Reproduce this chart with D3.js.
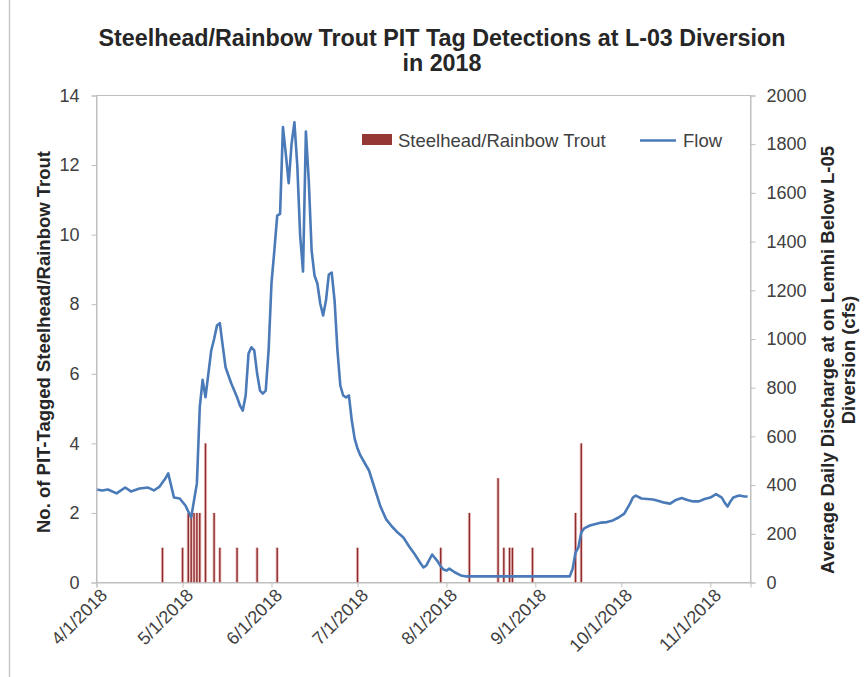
<!DOCTYPE html>
<html>
<head>
<meta charset="utf-8">
<script src="https://cdn.jsdelivr.net/npm/d3@7"></script>
<style>
  html, body { margin: 0; padding: 0; background: #fff; }
  svg { display: block; font-family: "Liberation Sans", Arial, sans-serif; }
</style>
</head>
<body>
<svg id="chart" width="868" height="677"></svg>
<script>
// Daily PIT tag detections (count of fish per day)
const detectionDates = [
  "2018-04-24", "2018-05-01", "2018-05-03", "2018-05-04", "2018-05-05", "2018-05-06",
  "2018-05-07", "2018-05-09", "2018-05-12", "2018-05-14", "2018-05-20", "2018-05-27",
  "2018-06-03", "2018-07-01", "2018-07-30", "2018-08-09", "2018-08-19", "2018-08-21",
  "2018-08-23", "2018-08-24", "2018-08-31", "2018-09-15", "2018-09-17"
];
const detectionCounts = [
  1, 1, 2, 2, 2, 2,
  2, 4, 2, 1, 1, 1,
  1, 1, 1, 2, 3, 1,
  1, 1, 1, 2, 4
];

// Average daily discharge (cfs)
const flowDates = [
  "2018-04-01", "2018-04-03", "2018-04-05", "2018-04-08", "2018-04-11", "2018-04-13",
  "2018-04-16", "2018-04-19", "2018-04-21", "2018-04-23", "2018-04-25", "2018-04-26",
  "2018-04-28", "2018-04-30", "2018-05-02", "2018-05-04", "2018-05-06", "2018-05-07",
  "2018-05-08", "2018-05-09", "2018-05-11", "2018-05-12", "2018-05-13", "2018-05-14",
  "2018-05-15", "2018-05-16", "2018-05-17", "2018-05-18", "2018-05-20", "2018-05-21",
  "2018-05-22", "2018-05-23", "2018-05-24", "2018-05-25", "2018-05-26", "2018-05-27",
  "2018-05-28", "2018-05-29", "2018-05-30", "2018-05-31", "2018-06-01", "2018-06-02",
  "2018-06-03", "2018-06-04", "2018-06-05", "2018-06-06", "2018-06-07", "2018-06-08",
  "2018-06-09", "2018-06-10", "2018-06-11", "2018-06-12", "2018-06-13", "2018-06-14",
  "2018-06-15", "2018-06-16", "2018-06-17", "2018-06-18", "2018-06-19", "2018-06-20",
  "2018-06-21", "2018-06-22", "2018-06-23", "2018-06-24", "2018-06-25", "2018-06-26",
  "2018-06-27", "2018-06-28", "2018-06-29", "2018-06-30", "2018-07-01", "2018-07-02",
  "2018-07-03", "2018-07-05", "2018-07-07", "2018-07-09", "2018-07-11", "2018-07-13",
  "2018-07-15", "2018-07-17", "2018-07-19", "2018-07-21", "2018-07-23", "2018-07-24",
  "2018-07-25", "2018-07-27", "2018-07-29", "2018-07-30", "2018-07-31", "2018-08-01",
  "2018-08-02", "2018-08-04", "2018-08-06", "2018-08-08", "2018-09-13", "2018-09-14",
  "2018-09-15", "2018-09-16", "2018-09-17", "2018-09-18", "2018-09-20", "2018-09-22",
  "2018-09-24", "2018-09-26", "2018-09-28", "2018-09-30", "2018-10-02", "2018-10-04",
  "2018-10-05", "2018-10-06", "2018-10-08", "2018-10-10", "2018-10-12", "2018-10-14",
  "2018-10-16", "2018-10-18", "2018-10-20", "2018-10-22", "2018-10-24", "2018-10-26",
  "2018-10-28", "2018-10-30", "2018-11-01", "2018-11-03", "2018-11-05", "2018-11-06",
  "2018-11-07", "2018-11-08", "2018-11-09", "2018-11-11", "2018-11-13", "2018-11-14"
];
const flowValues = [
  382, 378, 382, 366, 390, 374,
  386, 390, 378, 394, 427, 448,
  349, 345, 316, 267, 407, 720,
  832, 761, 953, 1000, 1055, 1065,
  973, 884, 850, 817, 761, 727,
  706, 768, 940, 966, 953, 858,
  788, 776, 788, 953, 1228, 1363,
  1507, 1514, 1870, 1760, 1640, 1800,
  1890, 1713, 1425, 1277, 1852, 1651,
  1363, 1261, 1228, 1146, 1097, 1158,
  1265, 1273, 1158, 953, 809, 768,
  760, 768, 665, 591, 550, 522,
  501, 460, 386, 312, 259, 230,
  205, 185, 148, 115, 78, 62,
  70, 115, 86, 66, 53, 49,
  57, 41, 29, 25, 25, 57,
  123, 144, 205, 222, 234, 240,
  246, 248, 255, 267, 283, 324,
  349, 357, 345, 343, 341, 335,
  328, 324, 339, 347, 339, 333,
  333, 343, 349, 363, 349, 328,
  312, 333, 349, 357, 353, 353
];

// Axis ticks
const xTickDates = ["2018-04-01", "2018-05-01", "2018-06-01", "2018-07-01",
                    "2018-08-01", "2018-09-01", "2018-10-01", "2018-11-01"];
const leftTicks = [0, 2, 4, 6, 8, 10, 12, 14];
const rightTicks = [0, 200, 400, 600, 800, 1000, 1200, 1400, 1600, 1800, 2000];

const titleLines = ["Steelhead/Rainbow Trout PIT Tag Detections at L-03 Diversion", "in 2018"];
const leftTitle = "No. of PIT-Tagged Steelhead/Rainbow Trout";
const rightTitleLines = ["Average Daily Discharge at on Lemhi Below L-05", "Diversion (cfs)"];
const seriesNames = ["Steelhead/Rainbow Trout", "Flow"];

const parse = d3.utcParse("%Y-%m-%d");
const fmt = d3.utcFormat("%-m/%-d/%Y");

const plot = { left: 96.5, right: 750.5, top: 95.5, bottom: 582.5 };
const axisColor = "#bfbfbf";
const textColor = "#404040";
const titleColor = "#262626";
const barDark = "#8e2b2b";
const barLight = "#ebbcbc";
const lineColor = "#4a7ab8";
const fontFamily = "'Liberation Sans', Arial, sans-serif";

const svg = d3.select("#chart");

// Outer chart frame
svg.append("line")
  .attr("x1", 9.5).attr("x2", 9.5).attr("y1", 0).attr("y2", 677)
  .attr("stroke", "#c8c8c8").attr("stroke-width", 1.5);

const x = d3.scaleUtc()
  .domain([parse("2018-04-01"), parse("2018-11-15")])
  .range([plot.left, plot.right]);
const yLeft = d3.scaleLinear().domain([0, 14]).range([plot.bottom, plot.top]);
const yRight = d3.scaleLinear().domain([0, 2000]).range([plot.bottom, plot.top]);

// Plot area border
svg.append("rect")
  .attr("x", plot.left).attr("y", plot.top)
  .attr("width", plot.right - plot.left).attr("height", plot.bottom - plot.top)
  .attr("fill", "none").attr("stroke", axisColor);

// Detection bars
const detections = detectionDates.map((d, i) => ({ date: parse(d), count: detectionCounts[i] }));
const bars = svg.append("g");
bars.selectAll("rect.halo").data(detections).join("rect")
  .attr("class", "halo")
  .attr("x", d => x(d.date) - 1.6)
  .attr("width", 3.2)
  .attr("y", d => yLeft(d.count))
  .attr("height", d => yLeft(0) - yLeft(d.count))
  .attr("fill", barLight).attr("opacity", 0.85);
bars.selectAll("rect.core").data(detections).join("rect")
  .attr("class", "core")
  .attr("x", d => x(d.date) - 0.7)
  .attr("width", 1.4)
  .attr("y", d => yLeft(d.count))
  .attr("height", d => yLeft(0) - yLeft(d.count))
  .attr("fill", barDark);

// Flow line
const flow = flowDates.map((d, i) => ({ date: parse(d), value: flowValues[i] }));
svg.append("path")
  .datum(flow)
  .attr("fill", "none")
  .attr("stroke", lineColor)
  .attr("stroke-width", 2.6)
  .attr("stroke-linejoin", "round")
  .attr("d", d3.line().x(d => x(d.date)).y(d => yRight(d.value)));

// Axes
function styleAxis(size) {
  return g => {
    g.select(".domain").attr("stroke", axisColor);
    g.selectAll(".tick line").attr("stroke", axisColor);
    g.selectAll(".tick text").attr("fill", textColor)
      .style("font-size", size + "px").style("font-family", fontFamily);
  };
}

const gx = svg.append("g")
  .attr("transform", `translate(0,${plot.bottom})`)
  .call(d3.axisBottom(x).tickValues(xTickDates.map(parse)).tickFormat(fmt).tickSize(5).tickPadding(3))
  .call(styleAxis(18));
gx.selectAll(".tick text")
  .attr("text-anchor", "end")
  .attr("dx", "-0.1em").attr("dy", "0.55em")
  .attr("transform", "rotate(-45)");

svg.append("g")
  .attr("transform", `translate(${plot.left},0)`)
  .call(d3.axisLeft(yLeft).tickValues(leftTicks).tickSize(5).tickPadding(12))
  .call(styleAxis(18));

svg.append("g")
  .attr("transform", `translate(${plot.right},0)`)
  .call(d3.axisRight(yRight).tickValues(rightTicks).tickFormat(d3.format("d")).tickSize(5).tickPadding(11))
  .call(styleAxis(18));

// Titles
svg.append("text")
  .attr("x", 442).attr("y", 46)
  .attr("text-anchor", "middle")
  .attr("fill", titleColor)
  .style("font-size", "23.3px").style("font-weight", "bold")
  .selectAll("tspan").data(titleLines).join("tspan")
  .attr("x", 442).attr("dy", (d, i) => i === 0 ? 0 : 25)
  .text(d => d);

svg.append("text")
  .attr("transform", `translate(50,342) rotate(-90)`)
  .attr("text-anchor", "middle")
  .attr("fill", titleColor)
  .style("font-size", "18.5px").style("font-weight", "bold")
  .text(leftTitle);

svg.append("text")
  .attr("transform", `translate(834,360) rotate(-90)`)
  .attr("text-anchor", "middle")
  .attr("fill", titleColor)
  .style("font-size", "18.5px").style("font-weight", "bold")
  .selectAll("tspan").data(rightTitleLines).join("tspan")
  .attr("x", 0).attr("dy", (d, i) => i === 0 ? 0 : 21)
  .text(d => d);

// Legend
const legend = svg.append("g")
  .style("font-size", "18.5px").style("font-family", fontFamily)
  .attr("fill", textColor);
legend.append("rect")
  .attr("x", 362).attr("y", 134).attr("width", 30).attr("height", 11)
  .attr("fill", "#953735");
legend.append("text").attr("x", 398).attr("y", 147).text(seriesNames[0]);
legend.append("line")
  .attr("x1", 640).attr("x2", 676).attr("y1", 140.5).attr("y2", 140.5)
  .attr("stroke", lineColor).attr("stroke-width", 2.6);
legend.append("text").attr("x", 683).attr("y", 147).text(seriesNames[1]);
</script>
</body>
</html>
